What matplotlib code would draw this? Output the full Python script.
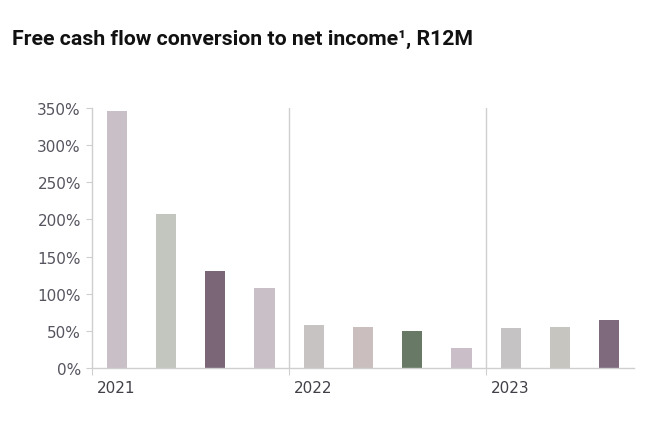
import numpy as np
import matplotlib.pyplot as plt

# R12M free cash flow conversion, quarterly
quarters = ['Q1 21', 'Q2 21', 'Q3 21', 'Q4 21', 'Q1 22', 'Q2 22', 'Q3 22', 'Q4 22',
            'Q1 23', 'Q2 23', 'Q3 23']
conversion = [346, 207, 130, 108, 58, 55, 50, 27, 54, 55, 65]
years = ['2021', '2022', '2023']
year_start = [0, 4, 8]
bar_colors = ['#c9bfc6', '#c3c6be', '#7b6677', '#c9bfc6',
              '#c6c3c2', '#cabfbe', '#687a66', '#cabfc8',
              '#c6c3c4', '#c6c5c0', '#7e6a7c']

fig = plt.figure(figsize=(6.63, 4.31), dpi=100)
ax = fig.add_axes([0.1388, 0.1439, 0.8172, 0.6032])

x = np.arange(len(quarters))
ax.bar(x, conversion, width=0.41, color=bar_colors)

ax.set_xlim(-0.5, len(quarters) - 0.5)
ax.set_ylim(0, 350)
ax.set_yticks(np.arange(0, 351, 50))
ax.set_yticklabels([f'{v}%' for v in range(0, 351, 50)], fontsize=11,
                   color='#555560', family='DejaVu Sans')

grid_c = '#cfcfcf'
for s in ['top', 'right']:
    ax.spines[s].set_visible(False)
for s in ['left', 'bottom']:
    ax.spines[s].set_color(grid_c)
    ax.spines[s].set_linewidth(1)
ax.tick_params(axis='y', length=4, color=grid_c, pad=4)

ax.set_xticks([s - 0.5 for s in year_start])
ax.set_xticklabels([])
ax.tick_params(axis='x', length=5, color=grid_c)

for s in year_start[1:]:
    ax.axvline(s - 0.5, color=grid_c, linewidth=1)

for s, yr in zip(year_start, years):
    ax.text(s - 0.4, -0.045, yr, transform=ax.get_xaxis_transform(),
            ha='left', va='top', fontsize=11, color='#404048', family='DejaVu Sans')

fig.text(0.018, 0.908, 'Free cash flow conversion to net income\u00b9, R12M',
         fontsize=15.3, fontweight='bold', family='Roboto',
         ha='left', va='center', color='#111111')

fig.savefig('out.png', dpi=100)
